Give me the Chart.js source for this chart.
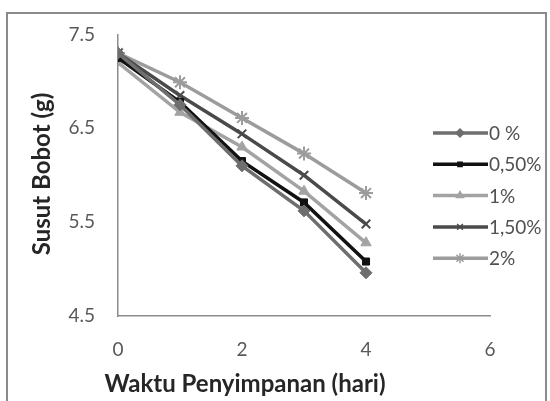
<!DOCTYPE html>
<html>
<head>
<meta charset="utf-8">
<script src="https://cdn.jsdelivr.net/npm/chart.js@4/dist/chart.umd.min.js"></script>
<style>
  html, body { margin: 0; padding: 0; background: #fff; }
  #wrap { position: relative; width: 550px; height: 401px; }
</style>
</head>
<body>
<div id="wrap"><canvas id="c" width="550" height="401"></canvas></div>
<script>
// Storage time (days) and weight loss per coating concentration
const days = [0, 1, 2, 3, 4];
const seriesNames = ['0 %', '0,50%', '1%', '1,50%', '2%'];
const s0 = [7.30, 6.75, 6.10, 5.62, 4.96];
const s050 = [7.25, 6.78, 6.15, 5.71, 5.08];
const s1 = [7.20, 6.67, 6.30, 5.83, 5.28];
const s150 = [7.30, 6.85, 6.44, 6.00, 5.48];
const s2 = [7.30, 6.99, 6.61, 6.23, 5.81];
const xTicks = [0, 2, 4, 6];
const yTicks = [4.5, 5.5, 6.5, 7.5];

const values = [s0, s050, s1, s150, s2];
const colors = ['#6e6e6e', '#111111', '#a3a3a3', '#4a4a4a', '#9c9c9c'];
const markers = ['rectRot', 'rect', 'triangle', 'crossRot', 'star'];
const markerSize = [6, 5, 6, 6, 7];

const datasets = values.map((vals, i) => ({
  label: seriesNames[i],
  data: days.map((d, k) => ({ x: d, y: vals[k] })),
  borderColor: colors[i],
  backgroundColor: colors[i],
  borderWidth: 3.5,
  pointStyle: markers[i],
  pointRadius: markerSize[i],
  pointBorderColor: colors[i],
  pointBackgroundColor: colors[i],
  pointBorderWidth: (markers[i] === 'crossRot' || markers[i] === 'star') ? 2 : 1,
  tension: 0
}));

const FONT = 'Lato, "Open Sans", sans-serif';

// Outer frame, axis titles and the legend
const decor = {
  id: 'decor',
  beforeDraw(chart) {
    const ctx = chart.ctx;
    ctx.save();
    ctx.strokeStyle = '#8a8a8a';
    ctx.lineWidth = 2;
    ctx.strokeRect(7, 13, 539, 400);
    ctx.restore();
  },
  afterDraw(chart) {
    const ctx = chart.ctx;
    ctx.save();
    ctx.fillStyle = '#262626';
    ctx.font = 'bold 24px ' + FONT;
    ctx.textAlign = 'center';
    ctx.textBaseline = 'middle';
    ctx.fillText('Waktu Penyimpanan (hari)', 245, 384);
    ctx.translate(42, 174);
    ctx.rotate(-Math.PI / 2);
    ctx.fillText('Susut Bobot (g)', 0, 0);
    ctx.restore();

    // legend
    ctx.save();
    chart.data.datasets.forEach((ds, i) => {
      const y = 133 + i * 31.3;
      ctx.strokeStyle = ds.borderColor;
      ctx.lineWidth = 3.5;
      ctx.beginPath();
      ctx.moveTo(433, y);
      ctx.lineTo(488, y);
      ctx.stroke();
      ctx.fillStyle = ds.borderColor;
      ctx.strokeStyle = ds.borderColor;
      ctx.lineWidth = 1.5;
      Chart.helpers.drawPoint(ctx, {
        pointStyle: ds.pointStyle,
        radius: ds.pointRadius - 2,
        borderWidth: 1.5,
        rotation: 0
      }, 460, y);
      ctx.fillStyle = '#505050';
      ctx.font = '19px ' + FONT;
      ctx.textAlign = 'left';
      ctx.textBaseline = 'middle';
      ctx.fillText(ds.label, 489, y + 1);
    });
    ctx.restore();
  }
};

new Chart(document.getElementById('c'), {
  type: 'line',
  data: { datasets },
  options: {
    responsive: false,
    animation: false,
    devicePixelRatio: 1,
    layout: { padding: { left: 0, top: 28, right: 60, bottom: 0 } },
    plugins: { legend: { display: false }, tooltip: { enabled: false } },
    scales: {
      x: {
        type: 'linear',
        min: 0, max: 6,
        afterBuildTicks(scale) { scale.ticks = xTicks.map(v => ({ value: v })); },
        afterFit(scale) { scale.height = 85; },
        grid: { display: false, drawTicks: false },
        border: { display: true, color: '#8c8c8c', width: 1.5 },
        ticks: { color: '#595959', font: { size: 19, family: FONT }, padding: 22 }
      },
      y: {
        type: 'linear',
        min: 4.5, max: 7.5,
        afterBuildTicks(scale) { scale.ticks = yTicks.map(v => ({ value: v })); },
        afterFit(scale) { scale.width = 118; },
        grid: { display: false, drawTicks: false },
        border: { display: true, color: '#8c8c8c', width: 1.5 },
        ticks: {
          color: '#595959', font: { size: 19, family: FONT }, padding: 23,
          callback: v => v.toFixed(1)
        }
      }
    }
  },
  plugins: [decor]
});
</script>
</body>
</html>
